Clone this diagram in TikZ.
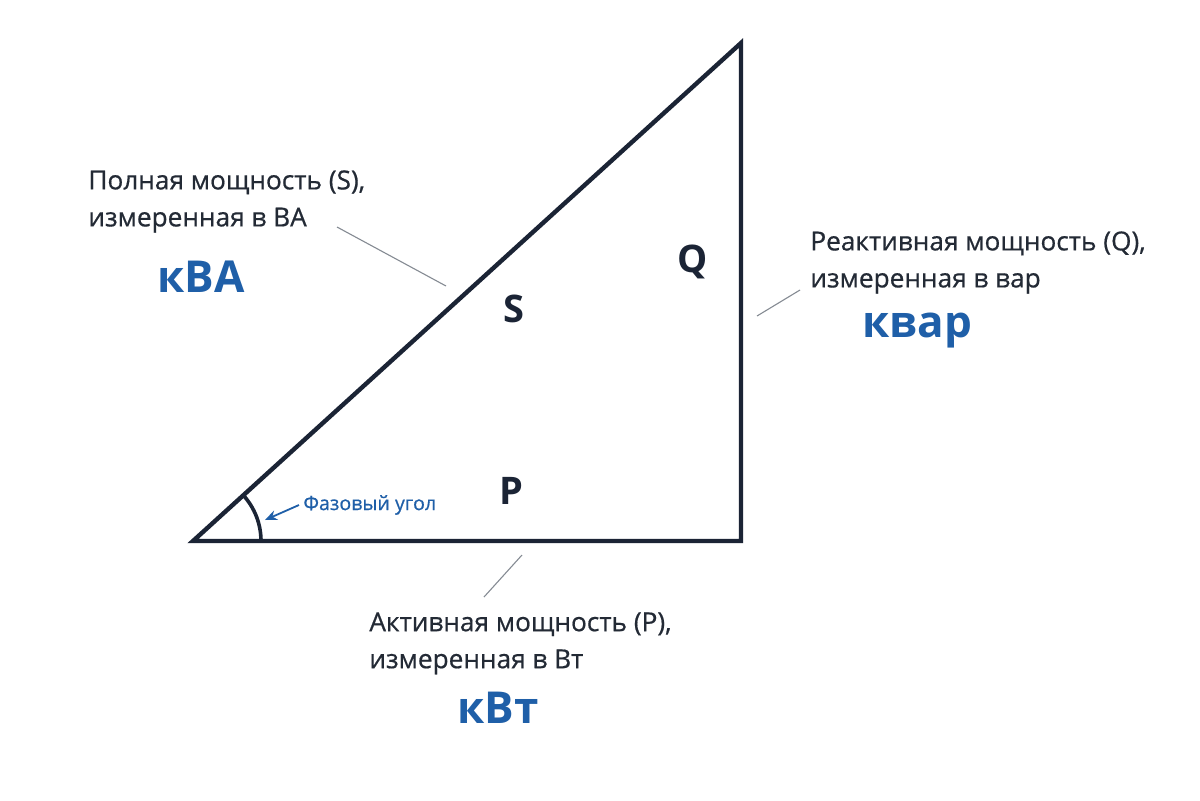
\documentclass[tikz,border=0pt]{standalone}
\usepackage{fontspec}
\setmainfont{Open Sans}
\newfontfamily\capfont{Open Sans}[FakeBold=0.6]
\usepackage{xcolor}
\usetikzlibrary{arrows.meta}
\definecolor{navy}{HTML}{1B2435}
\definecolor{ink}{HTML}{232A35}
\definecolor{unitblue}{HTML}{1F5FA8}
\definecolor{leadgray}{HTML}{858B93}

\begin{document}
\begin{tikzpicture}[x=0.5pt,y=-0.5pt,
		side/.style={draw=navy,line width=2.2pt,line join=miter},
		leader/.style={draw=leadgray,line width=0.55pt},
		caption/.style={anchor=north west,inner sep=0pt,align=left,text=ink,
			font=\capfont\fontsize{13.1pt}{18.5pt}\selectfont},
		unit/.style={anchor=base,inner sep=0pt,text=unitblue,
			font=\fontsize{22pt}{26pt}\selectfont\bfseries},
		letter/.style={inner sep=0pt,text=navy,
			font=\fontsize{19pt}{22pt}\selectfont\bfseries}]
		\useasboundingbox[fill=white] (0,0) rectangle (1200,800);
		% corners
		\coordinate (A) at (193,541);
		\coordinate (B) at (741,541);
		\coordinate (C) at (741,43);
		\draw[side] (A) -- (B) -- (C) -- cycle;
		% phase angle
		\draw[draw=navy,line width=1.8pt] ([shift={(0:68)}]A) arc (0:-42.27:68);
		\node[inner sep=0pt,anchor=west,text=unitblue,font=\capfont\fontsize{9.8pt}{11pt}\selectfont] (phase) at (303,505) {Фазовый угол};
		\coordinate (phtip) at (265,520);
		\draw[-{Stealth[length=6pt,width=5pt]},draw=unitblue,line width=0.9pt] ([xshift=-2pt]phase.west) -- (phtip);
		% sides
		\node[letter] (S) at (514,309) {S};
		\node[letter] (Q) at (693,262) {Q};
		\node[letter] (P) at (511,491) {P};
		% captions
		\node[caption] (capS) at (88,170) {Полная мощность (S),\\измеренная в ВА};
		\node[unit] (kVA) at (201,292) {кВА};
		\node[caption] (capQ) at (810,231) {Реактивная мощность (Q),\\измеренная в вар};
		\node[unit] (kvar) at (917,337) {квар};
		\node[caption] (capP) at (369,612) {Активная мощность (P),\\измеренная в Вт};
		\node[unit] (kW) at (498,723) {кВт};
		% leaders
		\coordinate (sa) at (337,227);
		\coordinate (sb) at (446,286);
		\coordinate (qa) at (800,290);
		\coordinate (qb) at (757,316);
		\coordinate (pa) at (522,555);
		\coordinate (pb) at (484,597);
		\draw[leader] (sa) -- (sb);
		\draw[leader] (qa) -- (qb);
		\draw[leader] (pa) -- (pb);
	\end{tikzpicture}
\end{document}
